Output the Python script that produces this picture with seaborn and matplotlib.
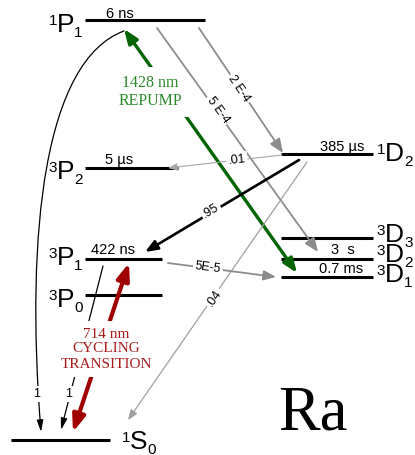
import numpy as np
import pandas as pd
import seaborn as sns
import matplotlib
matplotlib.use("Agg")
import matplotlib.pyplot as plt
from matplotlib.patches import FancyArrowPatch, ArrowStyle
from matplotlib.path import Path

# energy levels (picture units, y grows downward)
level_names = ["1P1", "1D2", "3P2", "3D3", "3D2", "3D1", "3P1", "3P0", "1S0"]
level_x0 = [85, 281, 85, 281, 281, 281, 85, 85, 11]
level_x1 = [205, 373, 178, 373, 373, 373, 162, 162, 110]
level_y = [20, 154, 168, 238, 259, 277, 259, 295, 440]

# term symbols
term_sup = ["1", "1", "3", "3", "3", "3", "3", "3", "1"]
term_letter = ["P", "D", "P", "D", "D", "D", "P", "P", "S"]
term_sub = ["1", "2", "2", "3", "2", "1", "1", "0", "0"]
term_x = [57, 385, 57, 385, 385, 385, 57, 57, 130]
term_y = [32, 161, 179, 242, 262, 282, 265, 307, 449]

# lifetimes
life_text = ["6 ns", "385 µs", "5 µs", "3  s", "0.7 ms", "422 ns"]
life_x = [120, 342, 119, 343, 341, 113]
life_y = [18, 151, 164, 254, 273, 254]

# transitions: tail -> tip
tr_name = ["repump", "cycling", "2 E-4", "5 E-4", ".01", ".95", ".04", "5E-5", "1"]
tr_x0 = [297, 73, 199, 157, 282, 299, 307, 168, 103]
tr_y0 = [273, 432, 28, 28, 155, 160, 162, 263, 266]
tr_x1 = [124, 129, 283, 318, 168, 145, 128, 276, 61]
tr_y1 = [29, 263, 153, 252, 168, 252, 420, 277, 430]

# branching labels
tr_label = ["1428 nm\nREPUMP", "714 nm\nCYCLING\nTRANSITION", "2 E-4", "5 E-4",
            ".01", ".95", ".04", "5E-5", "1"]
tr_lx = [150, 106, 239, 218, 237, 211, 214, 208, 69]
tr_ly = [92, 349, 89, 110, 160, 211, 298, 268, 394]
tr_rot = [0, 0, -56, -54, 6.5, 31, 55, -7.4, 0]

# 1P1 -> 1S0 decay drawn as a curve
curve_x = [124, 45, 25, 41]
curve_y = [31, 60, 230, 432]
curve_label = "1"
curve_lx, curve_ly = 37, 394

# styles
tr_color = ["#006400", "#a00000", "#8c8c8c", "#8c8c8c", "#a8a8a8", "black", "#a0a0a0", "#8c8c8c", "black"]
tr_lw = [2.4, 3.0, 1.3, 1.3, 0.8, 1.9, 0.9, 1.3, 0.9]
tr_style = ["<|-|>", "<|-|>", "-|>", "-|>", "-|>", "-|>", "-|>", "-|>", "-|>"]
tr_hl = [8.5, 10, 8.5, 8.5, 5.5, 7.5, 6, 7.5, 7]
tr_hw = [3.3, 3.8, 3.5, 3.5, 2.2, 3.0, 2.4, 3.0, 1.9]
tr_z = [2, 2, 4, 4, 4, 4, 4, 4, 2]
lab_color = ["#2b8a2b", "#a81c1c", "black", "black", "black", "black", "black", "black", "black"]
lab_size = [11.5, 11, 9, 9, 9, 9, 9, 9, 9]
lab_family = ["Liberation Serif", "Liberation Serif"] + ["Liberation Sans"] * 7
lab_pad = [0.5, 0.4, 0.15, 0.15, 0.15, 0.15, 0.15, 0.15, 0.15]

sns.set_theme(style="white")
plt.rcParams["font.family"] = ["Liberation Sans", "DejaVu Sans"]
plt.rcParams["text.color"] = "black"

fig = plt.figure(figsize=(4.15, 4.55), dpi=100)
ax = fig.add_axes([0, 0, 1, 1])

seg = pd.DataFrame({
    "level": np.repeat(level_names, 2),
    "x": np.ravel(np.column_stack([level_x0, level_x1])),
    "y": np.repeat(level_y, 2),
})
sns.lineplot(data=seg, x="x", y="y", units="level", estimator=None, sort=False,
             color="black", lw=2.2, solid_capstyle="butt", ax=ax, zorder=1.5)

ax.set_xlim(0, 415)
ax.set_ylim(455, 0)
ax.axis("off")

# term symbols: superscript, letter, subscript
letter_w = {"P": 17, "D": 19, "S": 17.5}
for sup, let, sub, x, y in zip(term_sup, term_letter, term_sub, term_x, term_y):
    ax.text(x, y, let, size=19, ha="left", va="baseline")
    ax.text(x, y - 7, sup, size=11, ha="right", va="baseline")
    ax.text(x + letter_w[let], y + 5, sub, size=11, ha="left", va="baseline")

for t, x, y in zip(life_text, life_x, life_y):
    ax.text(x, y, t, size=10.5, ha="center", va="baseline")

for i in range(len(tr_name)):
    arr = FancyArrowPatch((tr_x0[i], tr_y0[i]), (tr_x1[i], tr_y1[i]),
                          arrowstyle=ArrowStyle(tr_style[i], head_length=tr_hl[i], head_width=tr_hw[i]),
                          mutation_scale=1, shrinkA=0, shrinkB=0,
                          color=tr_color[i], lw=tr_lw[i], zorder=tr_z[i])
    ax.add_patch(arr)
    ax.text(tr_lx[i], tr_ly[i], tr_label[i], size=lab_size[i], color=lab_color[i],
            family=lab_family[i], rotation=tr_rot[i], ha="center", va="center",
            linespacing=1.2, zorder=tr_z[i] + 1,
            bbox=dict(facecolor="white", edgecolor="none", boxstyle="square,pad=%g" % lab_pad[i]))

curve = Path(np.column_stack([curve_x, curve_y]),
             [Path.MOVETO, Path.CURVE4, Path.CURVE4, Path.CURVE4])
ax.add_patch(FancyArrowPatch(path=curve, arrowstyle=ArrowStyle("-|>", head_length=7, head_width=1.9),
                             mutation_scale=1, color="black", lw=0.9, zorder=2))
ax.text(curve_lx, curve_ly, curve_label, size=9, ha="center", va="center", zorder=3,
        bbox=dict(facecolor="white", edgecolor="none", boxstyle="square,pad=0.15"))

ax.text(313, 430, "Ra", size=45, family="Liberation Serif", ha="center", va="baseline")

fig.savefig("out.png", dpi=100)
